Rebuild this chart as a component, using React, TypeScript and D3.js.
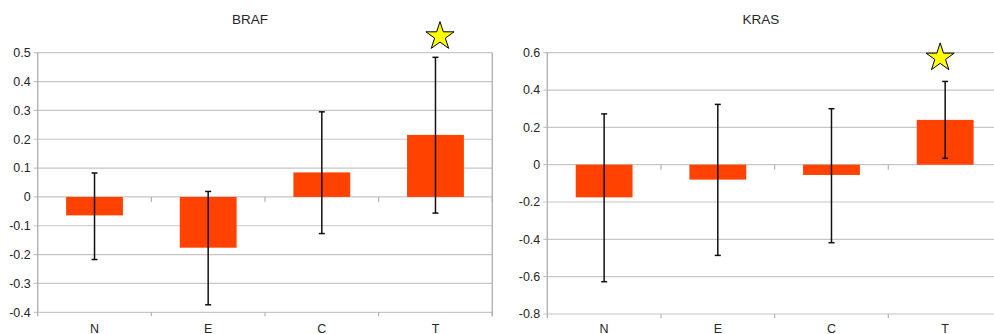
import React from "react";
import * as d3 from "d3";

const categories = ["N", "E", "C", "T"];
const brafValues = [-0.064, -0.176, 0.085, 0.215];
const brafErrHigh = [0.083, 0.019, 0.295, 0.484];
const brafErrLow = [-0.217, -0.374, -0.127, -0.056];
const brafTicks = [0.5, 0.4, 0.3, 0.2, 0.1, 0, -0.1, -0.2, -0.3, -0.4];
const krasValues = [-0.175, -0.08, -0.055, 0.24];
const krasErrHigh = [0.272, 0.323, 0.3, 0.446];
const krasErrLow = [-0.627, -0.486, -0.418, 0.034];
const krasTicks = [0.6, 0.4, 0.2, 0, -0.2, -0.4, -0.6, -0.8];
const starredCategory = "T";

const BAR = "#ff4200";
const GRID = "#c6c6c6";
const AXIS = "#b3b3b3";
const TXT = "#262626";
const NARROW = "'Liberation Sans Narrow', 'Liberation Sans', Arial, sans-serif";

function starPath(cx: number, cy: number, r: number) {
  const inner = r * 0.382;
  const pts: [number, number][] = [];
  for (let i = 0; i < 10; i++) {
    const ang = -Math.PI / 2 + (i * Math.PI) / 5;
    const rr = i % 2 === 0 ? r : inner;
    pts.push([cx + rr * Math.cos(ang), cy + rr * Math.sin(ang)]);
  }
  return d3.line()(pts)! + "Z";
}

type PanelProps = {
  title: string;
  titleX: number;
  values: number[];
  hi: number[];
  lo: number[];
  ticks: number[];
  x0: number;
  x1: number;
  yTop: number;
  yBottom: number;
  starY: number;
  starDx: number;
  rightBorder: boolean;
  fmt: (v: number) => string;
};

function Panel(p: PanelProps) {
  const y = d3
    .scaleLinear()
    .domain([d3.min(p.ticks)!, d3.max(p.ticks)!])
    .range([p.yBottom, p.yTop]);
  const x = d3
    .scaleBand<string>()
    .domain(categories)
    .range([p.x0, p.x1])
    .paddingInner(0.5)
    .paddingOuter(0.25);
  const step = x.step();
  const y0 = y(0);
  const bounds = d3.range(categories.length + 1).map((i) => p.x0 + i * step);
  const cap = 3;
  return (
    <g>
      <text
        x={p.titleX}
        y={24}
        textAnchor="middle"
        fontFamily="'Liberation Sans', Arial, sans-serif"
        fontSize={13.5}
        fill={TXT}
      >
        {p.title}
      </text>
      {p.ticks.map((t) => (
        <g key={t}>
          <line x1={p.x0 - 4} x2={p.x1} y1={y(t)} y2={y(t)} stroke={GRID} strokeWidth={1.2} />
          <text
            x={p.x0 - 7}
            y={y(t)}
            dy="0.35em"
            textAnchor="end"
            fontFamily={NARROW}
            fontSize={12.5}
            fill={TXT}
          >
            {p.fmt(t)}
          </text>
        </g>
      ))}
      <line x1={p.x0} x2={p.x0} y1={p.yTop} y2={p.yBottom + 4} stroke={AXIS} strokeWidth={1.4} />
      {p.rightBorder && (
        <line x1={p.x1} x2={p.x1} y1={p.yTop} y2={p.yBottom + 4} stroke={AXIS} strokeWidth={1.4} />
      )}
      {bounds.slice(1).map((bx, i) => (
        <g key={i}>
          <line x1={bx} x2={bx} y1={y0} y2={y0 + 5} stroke={AXIS} strokeWidth={1.2} />
          <line x1={bx} x2={bx} y1={p.yBottom} y2={p.yBottom + 4} stroke={AXIS} strokeWidth={1.2} />
        </g>
      ))}
      {categories.map((c, i) => {
        const v = p.values[i];
        const bx = x(c)!;
        const cx = bx + x.bandwidth() / 2;
        return (
          <g key={c}>
            <rect
              x={bx}
              y={Math.min(y(v), y0)}
              width={x.bandwidth()}
              height={Math.abs(y(v) - y0)}
              fill={BAR}
            />
            <line x1={cx} x2={cx} y1={y(p.hi[i])} y2={y(p.lo[i])} stroke="#111" strokeWidth={1.5} />
            <line x1={cx - cap} x2={cx + cap} y1={y(p.hi[i])} y2={y(p.hi[i])} stroke="#111" strokeWidth={1.5} />
            <line x1={cx - cap} x2={cx + cap} y1={y(p.lo[i])} y2={y(p.lo[i])} stroke="#111" strokeWidth={1.5} />
            <text
              x={cx}
              y={332.5}
              textAnchor="middle"
              fontFamily={NARROW}
              fontSize={12.5}
              fill={TXT}
            >
              {c}
            </text>
            {c === starredCategory && (
              <path
                d={starPath(cx + p.starDx, p.starY, 14.8)}
                fill="#ffff00"
                stroke="#000"
                strokeWidth={1}
                strokeLinejoin="miter"
              />
            )}
          </g>
        );
      })}
    </g>
  );
}

export default function App() {
  const fmt1 = (v: number) => (v === 0 ? "0" : d3.format(".1f")(v).replace("−", "-"));
  return (
    <svg
      width={994}
      height={334}
      style={{ position: "absolute", left: 0, top: 0, background: "#fff" }}
    >
      <rect width={994} height={334} fill="#fff" />
      <Panel
        title="BRAF"
        titleX={250}
        values={brafValues}
        hi={brafErrHigh}
        lo={brafErrLow}
        ticks={brafTicks}
        x0={37.7}
        x1={492.3}
        yTop={52.7}
        yBottom={312.3}
        starY={36.4}
        starDx={4.5}
        rightBorder={true}
        fmt={fmt1}
      />
      <Panel
        title="KRAS"
        titleX={761}
        values={krasValues}
        hi={krasErrHigh}
        lo={krasErrLow}
        ticks={krasTicks}
        x0={547.3}
        x1={1002}
        yTop={52.7}
        yBottom={314}
        starY={57.7}
        starDx={-5}
        rightBorder={false}
        fmt={fmt1}
      />
    </svg>
  );
}
